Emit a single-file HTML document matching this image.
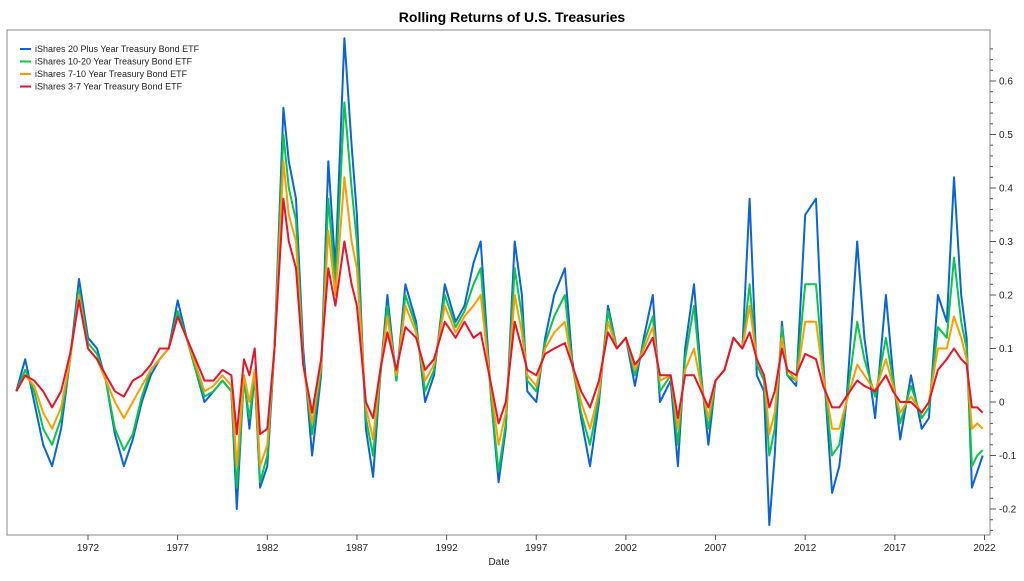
<!DOCTYPE html>
<html><head><meta charset="utf-8"><style>
html,body{margin:0;padding:0;background:#fff;}
svg text{font-family:"Liberation Sans",sans-serif;}
</style></head><body>
<svg id="chart" width="1024" height="576" xmlns="http://www.w3.org/2000/svg">
<text x="512" y="22" text-anchor="middle" font-size="14" font-weight="bold" fill="#000">Rolling Returns of U.S. Treasuries</text>
<rect x="7" y="30" width="983" height="505" fill="#fff" stroke="#888" stroke-width="1"/>
<g id="xaxis"></g>
<g id="yaxis"></g>
<g id="series"></g>
<text x="499" y="565" text-anchor="middle" font-size="10" fill="#222">Date</text>
<g id="legend"></g>
</svg>
<script>
const dates=[1968.0,1968.5,1969.0,1969.5,1970.0,1970.5,1971.0,1971.5,1972.0,1972.5,1973.0,1973.5,1974.0,1974.5,1975.0,1975.5,1976.0,1976.5,1977.0,1977.5,1978.0,1978.5,1979.0,1979.5,1980.0,1980.3,1980.7,1981.0,1981.3,1981.6,1982.0,1982.4,1982.9,1983.2,1983.6,1984.0,1984.5,1985.0,1985.4,1985.8,1986.3,1986.7,1987.0,1987.5,1987.9,1988.3,1988.7,1989.2,1989.7,1990.3,1990.8,1991.3,1991.9,1992.5,1993.0,1993.5,1993.9,1994.5,1994.9,1995.3,1995.8,1996.2,1996.5,1997.0,1997.5,1998.0,1998.6,1999.0,1999.5,2000.0,2000.5,2001.0,2001.5,2002.0,2002.5,2003.0,2003.5,2003.9,2004.5,2004.9,2005.3,2005.8,2006.2,2006.6,2007.0,2007.5,2008.0,2008.5,2008.9,2009.3,2009.7,2010.0,2010.3,2010.7,2011.0,2011.5,2012.0,2012.6,2013.0,2013.5,2013.9,2014.3,2014.9,2015.3,2015.9,2016.5,2016.9,2017.3,2017.9,2018.5,2018.9,2019.4,2019.9,2020.3,2020.7,2021.0,2021.3,2021.6,2021.9];
const tlt=[0.02,0.08,0.0,-0.08,-0.12,-0.05,0.08,0.23,0.12,0.1,0.04,-0.06,-0.12,-0.07,0.0,0.05,0.08,0.1,0.19,0.12,0.06,0.0,0.02,0.04,0.02,-0.2,0.05,-0.05,0.05,-0.16,-0.12,0.1,0.55,0.45,0.38,0.1,-0.1,0.05,0.45,0.25,0.68,0.48,0.35,-0.05,-0.14,0.05,0.2,0.04,0.22,0.15,0.0,0.05,0.22,0.15,0.18,0.26,0.3,0.0,-0.15,-0.05,0.3,0.2,0.02,0.0,0.12,0.2,0.25,0.08,-0.03,-0.12,0.0,0.18,0.1,0.12,0.03,0.12,0.2,0.0,0.04,-0.12,0.1,0.22,0.05,-0.08,0.04,0.06,0.12,0.1,0.38,0.05,0.02,-0.23,-0.1,0.15,0.05,0.03,0.35,0.38,0.08,-0.17,-0.12,0.0,0.3,0.12,-0.03,0.2,0.05,-0.07,0.05,-0.05,-0.03,0.2,0.15,0.42,0.2,0.12,-0.16,-0.13,-0.1];
const tlh=[0.02,0.06,0.02,-0.05,-0.08,-0.03,0.08,0.21,0.11,0.09,0.04,-0.05,-0.09,-0.06,0.01,0.06,0.08,0.1,0.17,0.12,0.06,0.01,0.02,0.04,0.02,-0.16,0.04,-0.03,0.05,-0.15,-0.1,0.1,0.5,0.4,0.34,0.08,-0.06,0.06,0.38,0.22,0.56,0.4,0.3,-0.03,-0.1,0.05,0.18,0.04,0.2,0.14,0.02,0.06,0.2,0.14,0.17,0.22,0.25,0.0,-0.13,-0.04,0.25,0.16,0.04,0.02,0.11,0.16,0.2,0.07,-0.02,-0.08,0.01,0.17,0.1,0.12,0.05,0.11,0.16,0.02,0.05,-0.08,0.08,0.18,0.04,-0.05,0.04,0.06,0.12,0.1,0.22,0.07,0.04,-0.1,-0.05,0.14,0.05,0.04,0.22,0.22,0.06,-0.1,-0.08,0.0,0.15,0.08,0.01,0.12,0.04,-0.04,0.03,-0.03,-0.01,0.14,0.12,0.27,0.15,0.1,-0.12,-0.1,-0.09];
const ief=[0.02,0.05,0.03,-0.02,-0.05,-0.01,0.08,0.2,0.1,0.08,0.04,0.0,-0.03,0.0,0.03,0.06,0.08,0.1,0.16,0.12,0.07,0.02,0.03,0.05,0.03,-0.12,0.05,0.0,0.06,-0.12,-0.08,0.1,0.45,0.35,0.3,0.07,-0.04,0.07,0.32,0.2,0.42,0.3,0.25,-0.01,-0.07,0.06,0.16,0.05,0.18,0.13,0.04,0.07,0.18,0.13,0.16,0.18,0.2,0.02,-0.08,-0.02,0.2,0.13,0.05,0.03,0.1,0.13,0.15,0.07,0.0,-0.05,0.02,0.15,0.1,0.12,0.06,0.1,0.14,0.04,0.05,-0.05,0.06,0.1,0.03,-0.03,0.04,0.06,0.12,0.1,0.18,0.08,0.05,-0.06,-0.02,0.12,0.06,0.04,0.15,0.15,0.05,-0.05,-0.05,0.0,0.07,0.05,0.02,0.08,0.03,-0.02,0.01,-0.02,0.0,0.1,0.1,0.16,0.12,0.08,-0.05,-0.04,-0.05];
const iei=[0.02,0.05,0.04,0.02,-0.01,0.02,0.09,0.19,0.1,0.08,0.05,0.02,0.01,0.04,0.05,0.07,0.1,0.1,0.16,0.12,0.08,0.04,0.04,0.06,0.05,-0.06,0.08,0.05,0.1,-0.06,-0.05,0.1,0.38,0.3,0.25,0.07,-0.02,0.08,0.25,0.18,0.3,0.22,0.18,0.0,-0.03,0.06,0.13,0.06,0.14,0.12,0.06,0.08,0.15,0.12,0.15,0.12,0.13,0.03,-0.04,0.0,0.15,0.1,0.06,0.05,0.09,0.1,0.11,0.07,0.02,-0.01,0.04,0.13,0.1,0.12,0.07,0.09,0.12,0.05,0.05,-0.03,0.05,0.05,0.02,-0.01,0.04,0.06,0.12,0.1,0.13,0.08,0.05,-0.01,0.02,0.1,0.06,0.05,0.09,0.08,0.03,-0.01,-0.01,0.01,0.04,0.03,0.02,0.05,0.02,0.0,0.0,-0.02,0.0,0.06,0.08,0.1,0.08,0.07,-0.01,-0.01,-0.02];
const seriesNames=["iShares 20 Plus Year Treasury Bond ETF","iShares 10-20 Year Treasury Bond ETF","iShares 7-10 Year Treasury Bond ETF","iShares 3-7 Year Treasury Bond ETF"];
const xTicks=[1972,1977,1982,1987,1992,1997,2002,2007,2012,2017,2022];
const yTicks=[-0.2,-0.1,0,0.1,0.2,0.3,0.4,0.5,0.6];
const colors=["#0a64d8","#0cc44a","#ff9c00","#e8142c"];
const NS="http://www.w3.org/2000/svg";
function xs(d){return 88+(d-1972)*17.93;}
function ys(v){return 402-v*535;}
function mk(tag,attrs,parent){const e=document.createElementNS(NS,tag);for(const k in attrs)e.setAttribute(k,attrs[k]);parent.appendChild(e);return e;}
const xa=document.getElementById('xaxis');
xTicks.forEach(t=>{
  const l=mk('line',{x1:xs(t),x2:xs(t),y1:535,y2:540,stroke:'#555'},xa);
  
  
  const tx=mk('text',{x:xs(t),y:551,'text-anchor':'middle','font-size':'10',fill:'#222'},xa);
  tx.textContent=t;
  
  
});
const ya=document.getElementById('yaxis');
for(let v=-0.24;v<=0.68;v+=0.02){
  const m=mk('line',{x1:990,x2:993,y1:ys(v),y2:ys(v),stroke:'#555'},ya);
  
  
}
yTicks.forEach(v=>{
  const l=mk('line',{x1:990,x2:996,y1:ys(v),y2:ys(v),stroke:'#555'},ya);
  
  
  const tx=mk('text',{x:999,y:ys(v)+3.5,'font-size':'10',fill:'#222'},ya);
  tx.textContent=(Math.round(v*10)/10).toString();
  
  
});
const sg=document.getElementById('series');
[tlt,tlh,ief,iei].forEach((vals,i)=>{
  const d=vals.map((v,j)=>(j?'L':'M')+xs(dates[j]).toFixed(1)+','+ys(v).toFixed(1)).join(' ');
  const p=mk('path',{d:d,fill:'none',stroke:colors[i],'stroke-width':'2','stroke-linejoin':'round'},sg);
  
  
});
const lg=document.getElementById('legend');
seriesNames.forEach((n,i)=>{
  const y=49+i*12.5;
  const l=mk('line',{x1:20,x2:31,y1:y,y2:y,stroke:colors[i],'stroke-width':'2'},lg);
  
  
  const t=mk('text',{x:35,y:y+3,'font-size':'9',fill:'#222'},lg);
  t.textContent=n;
  
  
});
</script>
</body></html>
